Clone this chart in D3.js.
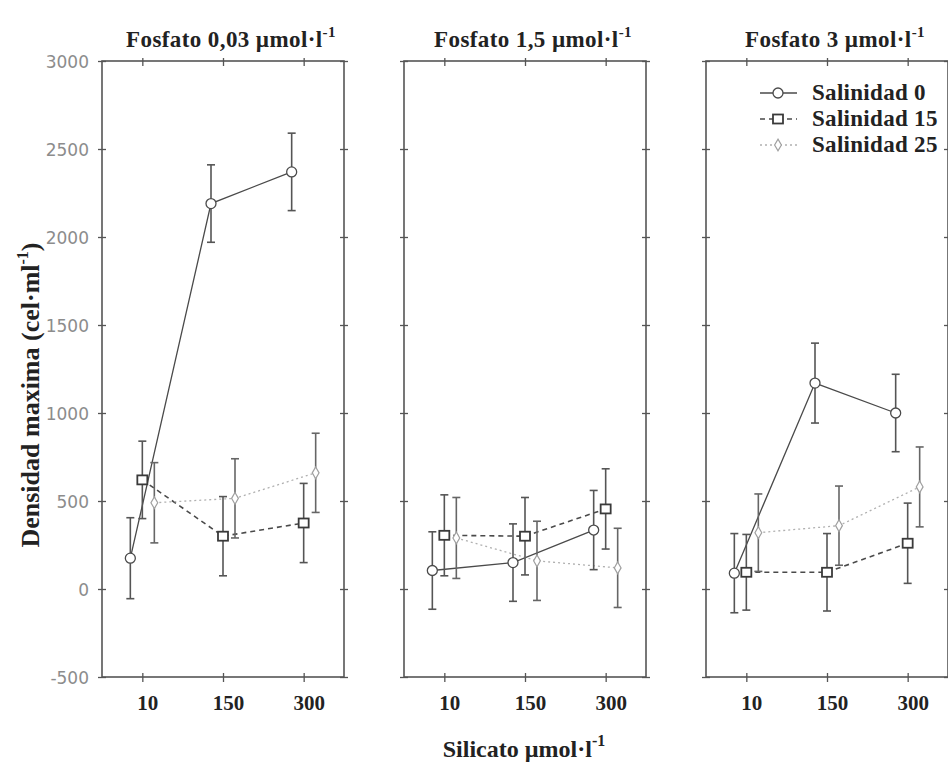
<!DOCTYPE html>
<html>
<head>
  <meta charset="utf-8">
  <title>Densidad maxima</title>
  <script src="https://d3js.org/d3.v7.min.js"></script>
  <style>
    body { margin: 0; background: #fff; }
    .serif { font-family: "Liberation Serif", "DejaVu Serif", serif; font-weight: bold; fill: #222; }
    .ytick text { font-family: "DejaVu Sans", sans-serif; font-size: 17px; fill: #8c8c8c; }
  </style>
</head>
<body>
<div id="chart"></div>
<script>
  // Silicate levels (x categories) and phosphate panels.
  const categories = ["10", "150", "300"];
  const panelTitles = ["Fosfato 0,03 \u00b5mol\u00b7l", "Fosfato 1,5 \u00b5mol\u00b7l", "Fosfato 3 \u00b5mol\u00b7l"];
  const seriesNames = ["Salinidad 0", "Salinidad 15", "Salinidad 25"];
  const yTicks = [-500, 0, 500, 1000, 1500, 2000, 2500, 3000];

  // Means per panel (one inner array per phosphate level).
  const sal0 = [[175, 2190, 2370], [105, 150, 335], [90, 1170, 1000]];
  const sal15 = [[620, 300, 375], [305, 300, 455], [95, 95, 260]];
  const sal25 = [[490, 515, 660], [290, 160, 120], [320, 360, 580]];

  // Error bar half-lengths.
  const err0 = [[230, 220, 220], [220, 220, 225], [225, 227, 220]];
  const err15 = [[220, 225, 225], [230, 220, 228], [215, 220, 228]];
  const err25 = [[228, 225, 225], [230, 225, 225], [220, 225, 227]];

  const means = [sal0, sal15, sal25];
  const errs = [err0, err15, err25];

  const W = 948, H = 766;
  const panelLeft = [102, 404, 706];
  const pw = 242, plotTop = 61, plotBottom = 677;

  const styles = [
    {stroke: "#4a4a4a", width: 1.3, dash: null, marker: "circle", mstroke: "#4a4a4a", mw: 1.3},
    {stroke: "#4a4a4a", width: 1.6, dash: "5,4", marker: "square", mstroke: "#3a3a3a", mw: 1.8},
    {stroke: "#b0b0b0", width: 1.3, dash: "2,3", marker: "diamond", mstroke: "#a0a0a0", mw: 1.2}
  ];

  const svg = d3.select("#chart").append("svg")
    .attr("width", W).attr("height", H);

  const y = d3.scaleLinear().domain([-500, 3000]).range([plotBottom, plotTop]);
  const x = d3.scalePoint().domain(categories).range([0, pw]).padding(0.5);
  const dodge = d3.scalePoint().domain(seriesNames).range([-12, 12]);

  function drawMarker(g, type, cx, cy, st) {
    if (type === "circle") {
      g.append("circle").attr("cx", cx).attr("cy", cy).attr("r", 5)
        .attr("fill", "#fff").attr("stroke", st.mstroke).attr("stroke-width", st.mw);
    } else if (type === "square") {
      g.append("rect").attr("x", cx - 5).attr("y", cy - 4.5).attr("width", 10).attr("height", 9)
        .attr("fill", "#fff").attr("stroke", st.mstroke).attr("stroke-width", st.mw);
    } else {
      g.append("path").attr("d", d3.symbol().type(d3.symbolDiamond).size(40)())
        .attr("transform", "translate(" + cx + "," + cy + ")")
        .attr("fill", "#fff").attr("stroke", st.mstroke).attr("stroke-width", st.mw);
    }
  }

  panelLeft.forEach((left, p) => {
    const g = svg.append("g").attr("transform", "translate(" + left + ",0)");

    // Frame
    g.append("rect").attr("x", 0).attr("y", plotTop).attr("width", pw).attr("height", plotBottom - plotTop)
      .attr("fill", "none").attr("stroke", "#555").attr("stroke-width", 1.6);

    // Y ticks, left and right
    const yl = g.append("g").attr("class", "ytick")
      .call(d3.axisLeft(y).tickValues(yTicks).tickSize(4).tickPadding(9)
        .tickFormat(p === 0 ? (d => String(d)) : ""));
    yl.select(".domain").remove();
    yl.selectAll(".tick line").attr("x2", 4).attr("x1", -4).attr("stroke", "#555").attr("stroke-width", 1.3);
    yl.selectAll(".tick text").attr("dy", "0.4em").attr("x", -13);

    const yr = g.append("g").attr("transform", "translate(" + pw + ",0)")
      .call(d3.axisRight(y).tickValues(yTicks).tickSize(4).tickFormat(""));
    yr.select(".domain").remove();
    yr.selectAll(".tick line").attr("x1", -4).attr("x2", 4).attr("stroke", "#555").attr("stroke-width", 1.3);

    // X ticks, bottom and top
    const xb = g.append("g").attr("transform", "translate(0," + plotBottom + ")")
      .call(d3.axisBottom(x).tickSize(4).tickPadding(14));
    xb.select(".domain").remove();
    xb.selectAll(".tick line").attr("y1", -4).attr("y2", 5).attr("stroke", "#555").attr("stroke-width", 1.3);
    xb.selectAll(".tick text").attr("class", "serif").attr("font-size", 21).attr("dx", 5);

    const xt = g.append("g").attr("transform", "translate(0," + plotTop + ")")
      .call(d3.axisTop(x).tickSize(4).tickFormat(""));
    xt.select(".domain").remove();
    xt.selectAll(".tick line").attr("y1", -3).attr("y2", 5).attr("stroke", "#555").attr("stroke-width", 1.3);

    // Title
    const t = g.append("text").attr("class", "serif").attr("x", pw / 2 + 8).attr("y", 47)
      .attr("text-anchor", "middle").attr("font-size", 23).attr("letter-spacing", 0.4);
    t.append("tspan").text(panelTitles[p]);
    t.append("tspan").attr("dy", -10).attr("font-size", 15).text("-1");

    // Series lines
    seriesNames.forEach((name, s) => {
      const st = styles[s];
      const pts = categories.map((c, i) => ({
        cx: x(c) + dodge(name),
        v: means[s][p][i]
      }));
      g.append("path")
        .attr("d", d3.line().x(d => d.cx).y(d => y(d.v))(pts))
        .attr("fill", "none").attr("stroke", st.stroke).attr("stroke-width", st.width)
        .attr("stroke-dasharray", st.dash);
    });

    // Error bars
    seriesNames.forEach((name, s) => {
      const eg = g.append("g").attr("stroke", s === 2 ? "#666" : "#555").attr("stroke-width", 1.6);
      categories.forEach((c, i) => {
        const cx = x(c) + dodge(name);
        const v = means[s][p][i], e = errs[s][p][i];
        eg.append("line").attr("x1", cx).attr("x2", cx).attr("y1", y(v + e)).attr("y2", y(v - e));
        eg.append("line").attr("x1", cx - 4).attr("x2", cx + 4).attr("y1", y(v + e)).attr("y2", y(v + e));
        eg.append("line").attr("x1", cx - 4).attr("x2", cx + 4).attr("y1", y(v - e)).attr("y2", y(v - e));
      });
    });

    // Markers
    seriesNames.forEach((name, s) => {
      const st = styles[s];
      const mg = g.append("g");
      categories.forEach((c, i) => {
        drawMarker(mg, st.marker, x(c) + dodge(name), y(means[s][p][i]), st);
      });
    });
  });

  // Legend in third panel
  const lg = svg.append("g");
  seriesNames.forEach((name, s) => {
    const st = styles[s];
    const ly = 93 + s * 26;
    lg.append("line").attr("x1", 760).attr("x2", 797).attr("y1", ly).attr("y2", ly)
      .attr("stroke", st.stroke).attr("stroke-width", st.width).attr("stroke-dasharray", st.dash);
    drawMarker(lg, st.marker, 778, ly, st);
    lg.append("text").attr("class", "serif").attr("x", 812).attr("y", ly + 7)
      .attr("font-size", 23).attr("letter-spacing", 0.3).text(name);
  });

  // Y axis label
  const ylab = svg.append("text").attr("class", "serif").attr("font-size", 26)
    .attr("text-anchor", "middle")
    .attr("transform", "translate(39,395) rotate(-90)");
  ylab.append("tspan").text("Densidad maxima (cel\u00b7ml");
  ylab.append("tspan").attr("dy", -11).attr("font-size", 16).text("-1");
  ylab.append("tspan").attr("dy", 11).text(")");

  // X axis label
  const xlab = svg.append("text").attr("class", "serif").attr("font-size", 24)
    .attr("text-anchor", "middle").attr("x", 524).attr("y", 757);
  xlab.append("tspan").text("Silicato \u00b5mol\u00b7l");
  xlab.append("tspan").attr("dy", -11).attr("font-size", 16).text("-1");
</script>
</body>
</html>
